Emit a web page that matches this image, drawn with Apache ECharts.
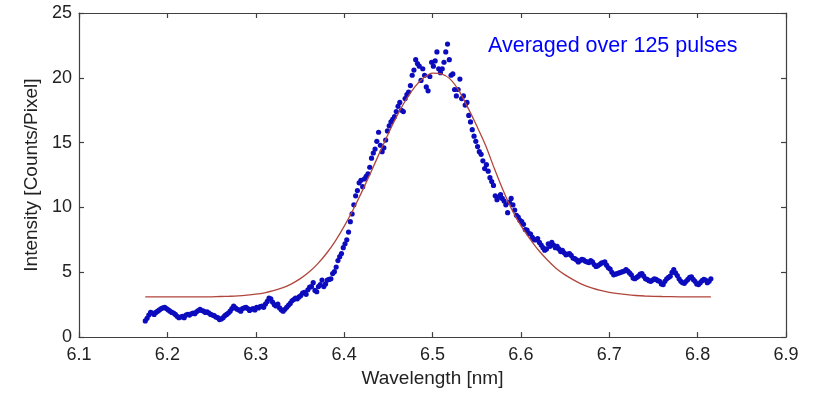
<!DOCTYPE html>
<html>
<head>
<meta charset="utf-8">
<script src="https://cdn.jsdelivr.net/npm/echarts@6/dist/echarts.min.js"></script>
<style>
html,body{margin:0;padding:0;background:#fff;}
#chart{width:814px;height:393px;}
</style>
</head>
<body>
<div id="chart"></div>
<script>
// Tick labels
const xTicks = ['6.1','6.2','6.3','6.4','6.5','6.6','6.7','6.8','6.9'];
const yTicks = ['0','5','10','15','20','25'];

// Measured spectrum: [wavelength nm, intensity counts/pixel]
const measured = [
[6.175,1.25],[6.177,1.45],[6.179,1.7],[6.181,1.9],[6.183,1.85],[6.185,1.75],[6.187,1.9],[6.189,2.0],[6.191,2.1],[6.193,2.2],
[6.195,2.25],[6.197,2.3],[6.199,2.2],[6.201,2.1],[6.203,2.0],[6.205,1.9],[6.207,1.85],[6.209,1.75],[6.211,1.6],[6.213,1.5],
[6.215,1.55],[6.217,1.6],[6.219,1.5],[6.221,1.7],[6.223,1.75],[6.225,1.7],[6.227,1.8],[6.229,1.85],[6.231,1.8],[6.233,1.95],
[6.235,2.05],[6.237,2.15],[6.239,2.05],[6.241,2.0],[6.243,1.9],[6.245,1.95],[6.247,1.85],[6.249,1.75],[6.251,1.7],[6.253,1.65],
[6.255,1.55],[6.257,1.5],[6.259,1.35],[6.261,1.4],[6.263,1.5],[6.265,1.65],[6.267,1.75],[6.269,1.85],[6.271,2.0],[6.273,2.2],
[6.275,2.4],[6.277,2.25],[6.279,2.15],[6.281,2.1],[6.283,2.0],[6.285,2.2],[6.287,2.25],[6.289,2.3],[6.291,2.2],[6.293,2.05],
[6.295,2.15],[6.297,2.2],[6.299,2.1],[6.301,2.3],[6.303,2.25],[6.305,2.35],[6.307,2.4],[6.309,2.3],[6.311,2.55],[6.313,2.75],
[6.315,3.0],[6.317,2.95],[6.319,2.7],[6.321,2.5],[6.323,2.4],[6.325,2.55],[6.327,2.25],[6.329,2.1],[6.331,2.0],[6.333,2.15],
[6.335,2.3],[6.337,2.45],[6.339,2.6],[6.341,2.8],[6.343,2.9],[6.345,3.0],[6.347,2.95],[6.349,3.1],[6.351,3.2],[6.353,3.4],
[6.355,3.45],[6.357,3.3],[6.359,3.65],[6.361,3.85],[6.363,3.9],[6.365,4.2],[6.367,3.6],[6.369,3.5],[6.371,3.9],[6.373,4.05],
[6.375,4.4],[6.377,3.9],[6.379,4.1],[6.381,4.4],[6.383,4.45],[6.385,4.5],[6.387,4.9],[6.389,5.05],[6.391,5.4],[6.393,5.9],
[6.395,6.2],[6.397,6.45],[6.399,6.9],[6.401,7.2],[6.403,7.5],[6.405,8.1],[6.407,8.9],[6.409,9.5],[6.411,10.2],[6.413,10.9],
[6.415,11.3],[6.417,11.9],[6.419,12.1],[6.421,11.6],[6.423,12.2],[6.425,12.4],[6.427,12.6],[6.429,13.1],[6.431,13.8],[6.433,14.2],
[6.435,14.5],[6.437,15.1],[6.439,15.8],[6.441,14.8],[6.443,14.3],[6.445,14.6],[6.447,15.2],[6.449,15.9],[6.451,16.3],[6.453,16.6],
[6.455,16.8],[6.457,17.0],[6.459,17.4],[6.461,17.8],[6.463,18.1],[6.465,17.5],[6.467,17.4],[6.469,18.4],[6.471,18.7],[6.473,18.9],
[6.475,19.4],[6.477,20.2],[6.479,20.6],[6.481,21.4],[6.483,21.1],[6.485,20.9],[6.487,19.8],[6.489,20.7],[6.491,20.2],[6.493,19.3],
[6.495,19.0],[6.497,20.1],[6.499,21.2],[6.501,20.9],[6.503,21.3],[6.505,22.0],[6.507,20.7],[6.509,20.4],[6.511,20.7],[6.513,21.2],
[6.515,22.0],[6.517,22.6],[6.519,21.4],[6.521,20.2],[6.523,20.3],[6.525,19.1],[6.527,18.6],[6.529,19.1],[6.531,19.9],[6.533,18.4],
[6.535,18.6],[6.537,17.9],[6.539,18.1],[6.541,17.1],[6.543,16.6],[6.545,16.0],[6.547,15.5],[6.549,15.1],[6.551,14.7],[6.553,14.3],
[6.555,14.1],[6.557,13.6],[6.559,13.0],[6.561,13.3],[6.563,12.8],[6.565,12.3],[6.567,12.0],[6.569,11.7],[6.571,10.9],[6.573,10.6],
[6.575,10.8],[6.577,11.0],[6.579,10.7],[6.581,10.5],[6.583,10.2],[6.585,9.6],[6.587,10.4],[6.589,10.7],[6.591,10.2],[6.593,9.8],
[6.595,9.4],[6.597,9.25],[6.599,9.0],[6.601,8.9],[6.603,8.7],[6.605,8.3],[6.607,8.25],[6.609,8.0],[6.611,7.95],[6.613,7.7],
[6.615,7.5],[6.617,7.5],[6.619,7.6],[6.621,7.3],[6.623,7.1],[6.625,6.9],[6.627,6.7],[6.629,6.8],[6.631,7.2],[6.633,7.0],
[6.635,7.3],[6.637,7.1],[6.639,6.9],[6.641,7.0],[6.643,6.8],[6.645,6.6],[6.647,6.7],[6.649,6.5],[6.651,6.35],[6.653,6.4],
[6.655,6.45],[6.657,6.3],[6.659,6.1],[6.661,6.05],[6.663,5.95],[6.665,5.8],[6.667,5.9],[6.669,6.0],[6.671,5.95],[6.673,5.85],
[6.675,5.8],[6.677,5.75],[6.679,5.9],[6.681,5.8],[6.683,5.6],[6.685,5.45],[6.687,5.5],[6.689,5.6],[6.691,5.7],[6.693,5.75],
[6.695,5.8],[6.697,5.55],[6.699,5.35],[6.701,5.25],[6.703,5.0],[6.705,4.8],[6.707,4.85],[6.709,4.9],[6.711,4.95],[6.713,5.0],
[6.715,5.05],[6.717,5.1],[6.719,5.2],[6.721,5.1],[6.723,4.95],[6.725,4.8],[6.727,4.55],[6.729,4.5],[6.731,4.6],[6.733,4.7],
[6.735,4.85],[6.737,4.9],[6.739,4.7],[6.741,4.5],[6.743,4.45],[6.745,4.35],[6.747,4.3],[6.749,4.4],[6.751,4.5],[6.753,4.45],
[6.755,4.35],[6.757,4.3],[6.759,4.1],[6.761,4.05],[6.763,4.3],[6.765,4.5],[6.767,4.6],[6.769,4.7],[6.771,5.0],[6.773,5.2],
[6.775,4.95],[6.777,4.75],[6.779,4.5],[6.781,4.3],[6.783,4.2],[6.785,4.15],[6.787,4.3],[6.789,4.45],[6.791,4.6],[6.793,4.65],
[6.795,4.45],[6.797,4.3],[6.799,4.1],[6.801,4.05],[6.803,4.2],[6.805,4.35],[6.807,4.45],[6.809,4.4],[6.811,4.2],[6.813,4.3],
[6.815,4.5]
];

// Fitted curve
const fitCurve = [
[6.175,3.1],[6.20,3.1],[6.22,3.1],[6.24,3.1],[6.25,3.11],[6.26,3.13],[6.27,3.15],[6.28,3.18],[6.29,3.235],[6.30,3.31],
[6.31,3.42],[6.32,3.58],[6.33,3.79],[6.34,4.09],[6.35,4.49],[6.36,5.0],[6.37,5.65],[6.38,6.45],[6.39,7.41],[6.40,8.54],
[6.41,9.81],[6.42,11.2],[6.43,12.68],[6.44,14.2],[6.45,15.69],[6.46,17.09],[6.47,18.31],[6.48,19.3],[6.49,20.0],[6.50,20.36],
[6.51,20.3],[6.52,19.9],[6.53,19.0],[6.54,17.7],[6.55,16.3],[6.56,14.8],[6.57,13.0],[6.58,11.3],[6.59,9.8],[6.60,8.6],
[6.61,7.6],[6.62,6.7],[6.63,5.95],[6.64,5.3],[6.65,4.8],[6.66,4.4],[6.67,4.05],[6.68,3.8],[6.69,3.6],[6.70,3.45],
[6.71,3.35],[6.72,3.27],[6.73,3.21],[6.74,3.17],[6.76,3.13],[6.78,3.11],[6.80,3.1],[6.815,3.1]
];

const annotation = 'Averaged over 125 pulses';

const FONT = "'Liberation Sans', Arial, Helvetica, sans-serif";
const axisColor = '#404040';
const labelColor = '#222';

const chart = echarts.init(document.getElementById('chart'), null, {renderer: 'canvas'});

const xMin = parseFloat(xTicks[0]), xMax = parseFloat(xTicks[xTicks.length - 1]);
const yMin = parseFloat(yTicks[0]), yMax = parseFloat(yTicks[yTicks.length - 1]);

function xAxisDef(pos, labels) {
  return {
    type: 'value', position: pos, min: xMin, max: xMax, interval: 0.1,
    axisLine: {show: true, onZero: false, lineStyle: {color: axisColor, width: 1.2}},
    axisTick: {show: true, inside: true, length: 5, lineStyle: {color: axisColor, width: 1.2}},
    axisLabel: {show: labels, fontSize: 18, fontFamily: FONT, color: labelColor, margin: 9,
      showMinLabel: true, showMaxLabel: true,
      formatter: v => { const s = v.toFixed(1); return xTicks.includes(s) ? s : ''; }},
    splitLine: {show: false},
    name: labels ? 'Wavelength [nm]' : '',
    nameLocation: 'middle', nameGap: 31,
    nameTextStyle: {fontSize: 19, fontFamily: FONT, color: labelColor}
  };
}
function yAxisDef(pos, labels) {
  return {
    type: 'value', position: pos, min: yMin, max: yMax, interval: 5,
    axisLine: {show: true, onZero: false, lineStyle: {color: axisColor, width: 1.2}},
    axisTick: {show: true, inside: true, length: 5, lineStyle: {color: axisColor, width: 1.2}},
    axisLabel: {show: labels, fontSize: 18, fontFamily: FONT, color: labelColor, margin: 7,
      formatter: v => { const s = String(Math.round(v)); return yTicks.includes(s) ? s : ''; }},
    splitLine: {show: false},
    name: labels ? 'Intensity [Counts/Pixel]' : '',
    nameLocation: 'middle', nameGap: 36,
    nameTextStyle: {fontSize: 19, fontFamily: FONT, color: labelColor}
  };
}

chart.setOption({
  animation: false,
  backgroundColor: '#fff',
  grid: {left: 79, right: 28, top: 13, bottom: 52, containLabel: false},
  xAxis: [xAxisDef('bottom', true), xAxisDef('top', false)],
  yAxis: [yAxisDef('left', true), yAxisDef('right', false)],
  series: [
    {
      type: 'scatter', xAxisIndex: 0, yAxisIndex: 0,
      data: measured, symbol: 'circle', symbolSize: 5.2,
      itemStyle: {color: '#0c0cbe', opacity: 1}, z: 2
    },
    {
      type: 'line', xAxisIndex: 0, yAxisIndex: 0,
      data: fitCurve, showSymbol: false, smooth: 0.3,
      lineStyle: {color: '#b0463c', width: 1.3}, z: 3
    }
  ],
  graphic: [{
    type: 'text', left: 488, top: 35,
    style: {text: annotation, fontSize: 21.5, fontFamily: FONT, fill: '#0000ff'}
  }]
});
</script>
</body>
</html>
